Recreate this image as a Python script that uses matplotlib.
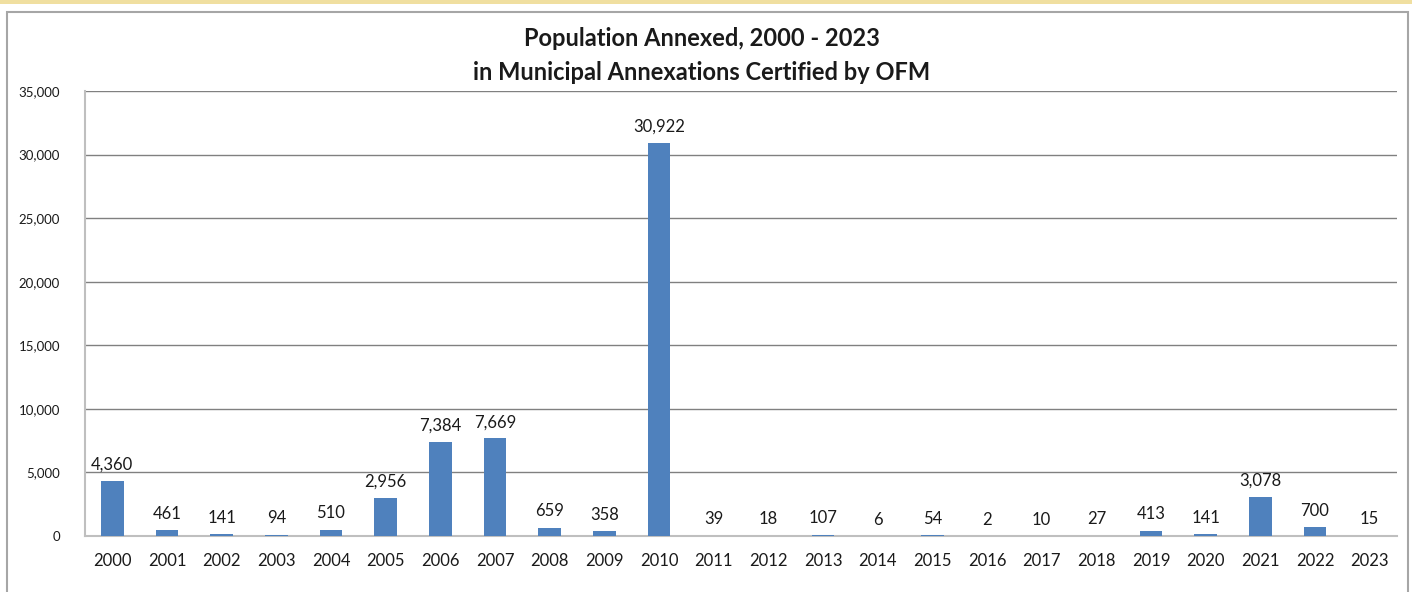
import matplotlib.pyplot as plt
from matplotlib.patches import Rectangle
from matplotlib.ticker import FuncFormatter

years = ['2000', '2001', '2002', '2003', '2004', '2005', '2006', '2007', '2008', '2009', '2010', '2011',
         '2012', '2013', '2014', '2015', '2016', '2017', '2018', '2019', '2020', '2021', '2022', '2023']
population = [4360, 461, 141, 94, 510, 2956, 7384, 7669, 659, 358, 30922, 39,
              18, 107, 6, 54, 2, 10, 27, 413, 141, 3078, 700, 15]

plt.rcParams['font.family'] = ['Lato', 'DejaVu Sans']

fig = plt.figure(figsize=(14.12, 5.92), dpi=100)
ax = fig.add_axes([85 / 1412, 56 / 592, 1312 / 1412, 445 / 592])

# outer frame and the yellow band on top
fig.patches.append(Rectangle((0, 1 - 4 / 592), 1, 4 / 592, transform=fig.transFigure,
                             facecolor='#f0dfa0', edgecolor='none', zorder=0))
fig.patches.append(Rectangle((7 / 1412, -0.05), 1401 / 1412, 1.05 - 12 / 592, transform=fig.transFigure,
                             facecolor='none', edgecolor='#a6a6a6', linewidth=1.5, zorder=0))

x = range(len(years))
bars = ax.bar(x, population, width=0.42, color='#4f81bd', zorder=3)
for xi, v in zip(x, population):
    ax.annotate(f'{v:,}', (xi, v), xytext=(0, 6), textcoords='offset points',
                ha='center', va='bottom', fontsize=12, color='#1a1a1a')

ax.set_xlim(-0.5, len(years) - 0.5)
ax.set_ylim(0, 35000)
ax.set_yticks(range(0, 35001, 5000))
ax.yaxis.set_major_formatter(FuncFormatter(lambda v, p: f'{int(v):,}'))
ax.set_xticks(list(x))
ax.set_xticklabels(years)
ax.tick_params(axis='y', length=0, pad=18, labelsize=9.5, labelcolor='#1a1a1a')
ax.tick_params(axis='x', length=0, pad=12, labelsize=12, labelcolor='#1a1a1a')

ax.grid(axis='y', color='#808080', linewidth=1, zorder=0)
for s in ['top', 'right']:
    ax.spines[s].set_visible(False)
ax.spines['left'].set_color('#bfbfbf')
ax.spines['bottom'].set_color('#bfbfbf')
ax.spines['left'].set_linewidth(1.5)
ax.spines['bottom'].set_linewidth(1.5)

fig.text(0.497, 1 - 38 / 592, 'Population Annexed, 2000 - 2023', ha='center', va='center',
         fontsize=17, fontweight='bold', color='#1a1a1a')
fig.text(0.497, 1 - 72 / 592, 'in Municipal Annexations Certified by OFM', ha='center', va='center',
         fontsize=17, fontweight='bold', color='#1a1a1a')

fig.savefig('out.png', dpi=100)
